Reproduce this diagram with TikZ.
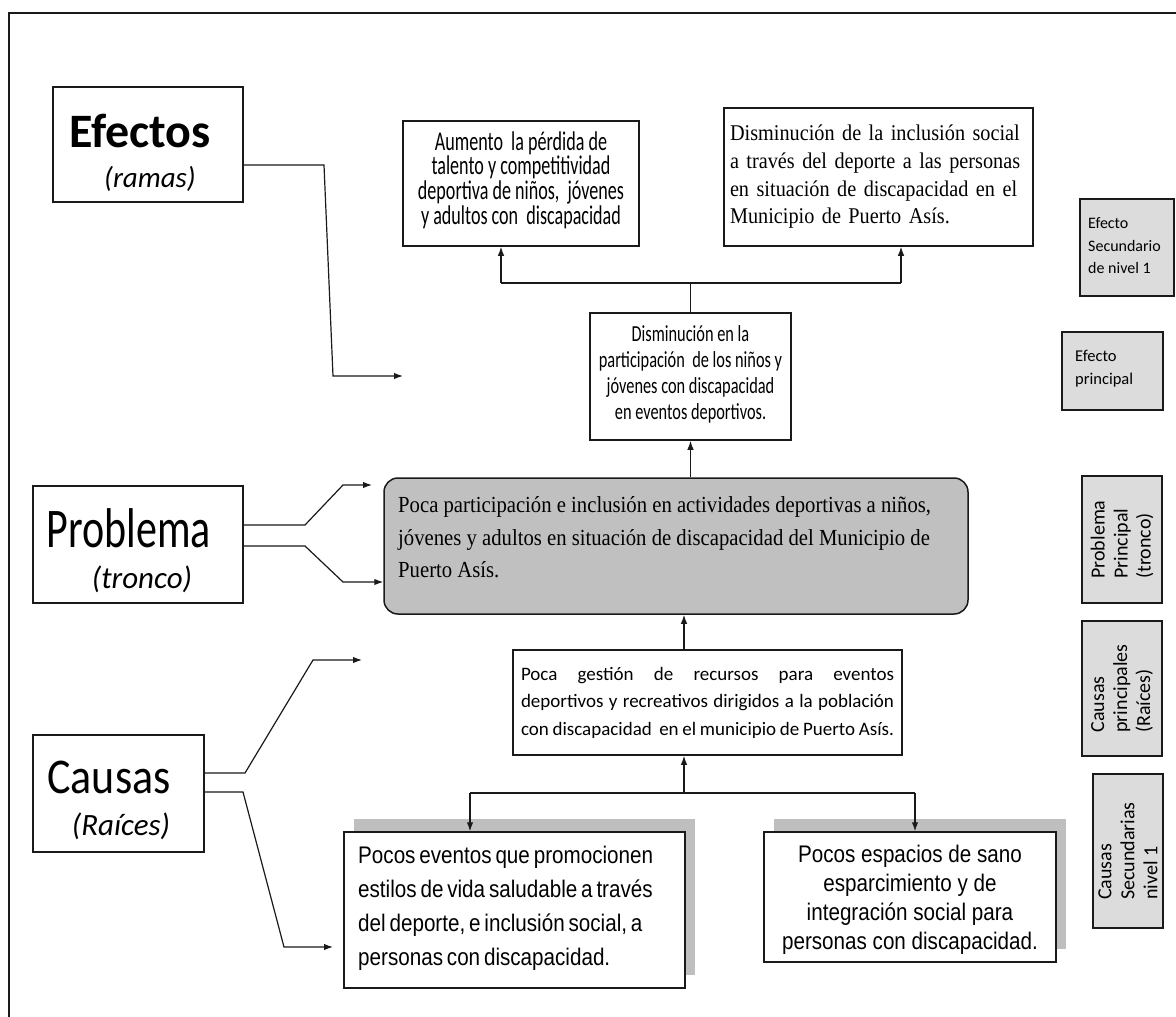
\documentclass[tikz,border=0pt]{standalone}
\usepackage{fontspec}
\setmainfont{Liberation Serif}
\newfontfamily\calfont{Carlito}
\newfontfamily\calcond[FakeStretch=0.67]{Carlito}
\newfontfamily\calmid[FakeStretch=0.71]{Carlito}
\newfontfamily\probfont[FakeStretch=0.75]{Carlito}
\newfontfamily\causfont[FakeStretch=0.88]{Carlito}
\newfontfamily\serfont[FakeStretch=0.9]{Liberation Serif}
\newfontfamily\narfont[FakeStretch=0.86]{Liberation Sans}
\newcommand\dboxfont{\narfont\fontsize{24}{34}\selectfont\spaceskip=0.16em plus 0.02em\relax}
\newcommand\eboxfont{\narfont\fontsize{24}{29}\selectfont}
\usetikzlibrary{arrows.meta,shadows}
\definecolor{legfill}{HTML}{DCDCDC}
\definecolor{mainfill}{HTML}{C0C0C0}
\definecolor{shadowgray}{HTML}{BFBFBF}
\definecolor{ink}{HTML}{1A1A1A}
\begin{document}
\begin{tikzpicture}[x=1pt,y=-1pt,
 box/.style={draw=ink, line width=1.5pt, fill=white, inner sep=0pt},
 leg/.style={draw=ink, line width=1.4pt, fill=legfill, inner sep=0pt},
 shad/.style={drop shadow={fill=shadowgray, opacity=1, shadow xshift=10pt, shadow yshift=13pt}},
 txt/.style={inner sep=0pt},
 conn/.style={draw=ink, line width=1.2pt},
 arr/.style={conn, -{Latex[length=9pt,width=6.5pt]}},
 lbl/.style={anchor=base, inner sep=0pt}
]
\useasboundingbox (0,0) rectangle (1176,1017);
\fill[white] (0,0) rectangle (1176,1017);
\draw[ink, line width=1.4pt] (9,1030) -- (9,13) -- (1190,13);

% left labels
\node[box, minimum width=190, minimum height=115] (efectos) at (148,144.5) {};
\node[lbl, font=\calfont\bfseries\fontsize{48}{48}\selectfont] (efectosT) at (140,147) {Efectos};
\node[lbl, font=\calfont\itshape\fontsize{29}{29}\selectfont] (ramasT) at (150,187) {(ramas)};

\node[box, minimum width=210, minimum height=117] (problema) at (138,544.5) {};
\node[lbl, font=\probfont\fontsize{56}{56}\selectfont] (problemaT) at (129,547) {Problema};
\node[lbl, font=\calfont\itshape\fontsize{31}{31}\selectfont] (troncoT) at (142,588) {(tronco)};

\node[box, minimum width=171, minimum height=117] (causas) at (118.5,793.5) {};
\node[lbl, font=\causfont\fontsize{50}{50}\selectfont] (causasT) at (109,793) {Causas};
\node[lbl, font=\calfont\itshape\fontsize{31}{31}\selectfont] (raicesT) at (121,835) {(Raíces)};

% effects
\node[box, minimum width=236, minimum height=125] (A) at (521,183.5) {};
\node[txt, align=center, font=\calcond\fontsize{27}{24.7}\selectfont] (Atext) at (521,180)
  {Aumento\ \ la pérdida de\\talento y competitividad\\deportiva de niños,\ \ jóvenes\\y adultos con\ \ discapacidad};
\node[box, minimum width=309, minimum height=138, text width=297, align=left,
  font=\serfont\fontsize{22.5}{27.7}\selectfont] (B) at (878.5,177)
  {Disminución de la inclusión social\\a través del deporte a las personas\\en situación de discapacidad en el\\Municipio de Puerto Asís.};
\node[box, minimum width=201, minimum height=127] (C) at (690.5,376.5) {};
\node[txt, align=center, font=\calmid\fontsize{23}{26}\selectfont] (Ctext) at (690.5,374)
  {Disminución en la\\participación\ \ de los niños y\\jóvenes con discapacidad\\en eventos deportivos.};

% main problem
\node[box, fill=mainfill, rounded corners=14pt, minimum width=584, minimum height=136] (main) at (676,546) {};
\node[txt, anchor=west, align=left, font=\serfont\fontsize{23}{32.5}\selectfont] (maintext) at (398,537.5)
  {Poca participación e inclusión en actividades deportivas a niños,\\jóvenes y adultos en situación de discapacidad del Municipio de\\Puerto Asís.};

% causes
\node[box, minimum width=389, minimum height=105, text width=373, align=justify,
  font=\calfont\fontsize{19}{27.5}\selectfont] (G) at (707.5,702.5)
  {Poca gestión de recursos para eventos\linebreak deportivos y recreativos dirigidos a la población\linebreak con discapacidad\ \ en el municipio de Puerto Asís.};
\node[box, shad, minimum width=341, minimum height=156] (D) at (514.5,910) {};
\node[txt, anchor=west, align=left, font=\dboxfont] (Dtext) at (358,908)
  {Pocos eventos que promocionen\\estilos de vida saludable a través\\del deporte, e inclusión social, a\\personas con discapacidad.};
\node[box, shad, minimum width=292, minimum height=130] (E) at (910,897) {};
\node[txt, align=center, font=\eboxfont] (Etext) at (910,900)
  {Pocos espacios de sano\\esparcimiento y de\\integración social para\\personas con discapacidad.};

% legend
\node[leg, minimum width=94, minimum height=97] (L1) at (1127,247.5) {};
\node[txt, anchor=west, align=left, font=\calfont\fontsize{16}{22.5}\selectfont] (L1text) at (1088,246) {Efecto\\Secundario\\de nivel 1};
\node[leg, minimum width=101, minimum height=78] (L2) at (1112.5,371) {};
\node[txt, anchor=west, align=left, font=\calfont\fontsize{16.5}{23}\selectfont] (L2text) at (1075,369) {Efecto\\principal};
\node[leg, rotate=90, minimum width=127, minimum height=80, align=left,
  font=\calfont\fontsize{20}{23}\selectfont] (L3) at (1122,539.5) {Problema\\Principal\\(tronco)};
\node[leg, rotate=90, minimum width=135, minimum height=80, align=left,
  font=\calfont\fontsize{20}{23}\selectfont] (L4) at (1122,688.5) {Causas\\principales\\(Raíces)};
\node[leg, rotate=90, minimum width=154, minimum height=70, align=left,
  font=\calfont\fontsize{20}{23}\selectfont] (L5) at (1128,851) {Causas\\Secundarias\\nivel 1};

% label connectors
\coordinate (e1) at (324,165); \coordinate (e2) at (333,376); \coordinate (e3) at (403,376);
\draw[arr] (efectos.east |- e1) -- (e1) -- (e2) -- (e3);
\coordinate (p1) at (305,525); \coordinate (p2) at (343,485); \coordinate (p3) at (372,485);
\draw[arr] (problema.east |- p1) -- (p1) -- (p2) -- (p3);
\coordinate (q1) at (305,546); \coordinate (q2) at (343,582);
\draw[arr] (problema.east |- q1) -- (q1) -- (q2) -- (main.west |- q2);
\coordinate (c1) at (245,773); \coordinate (c2) at (313,660); \coordinate (c3) at (362,660);
\draw[arr] (causas.east |- c1) -- (c1) -- (c2) -- (c3);
\coordinate (d1) at (243,792); \coordinate (d2) at (284,947); \coordinate (d3) at (333,947);
\draw[arr] (causas.east |- d1) -- (d1) -- (d2) -- (d3);

% tree connectors
\draw[arr] (C.south |- main.north) -- (C.south);
\coordinate (ja) at (501,283); \coordinate (jb) at (901,283);
\draw[conn] (C.north) -- (C.north |- ja);
\draw[conn] (ja) -- (jb);
\draw[arr] (ja) -- (ja |- A.south);
\draw[arr] (jb) -- (jb |- B.south);
\coordinate (gx) at (684,793);
\draw[arr] (gx |- G.north) -- (gx |- main.south);
\draw[arr] (gx) -- (gx |- G.south);
\coordinate (jd) at (470,793); \coordinate (je) at (915,793);
\draw[conn] (jd) -- (je);
\draw[arr] (jd) -- (jd |- D.north);
\draw[arr] (je) -- (je |- E.north);
\end{tikzpicture}
\end{document}
